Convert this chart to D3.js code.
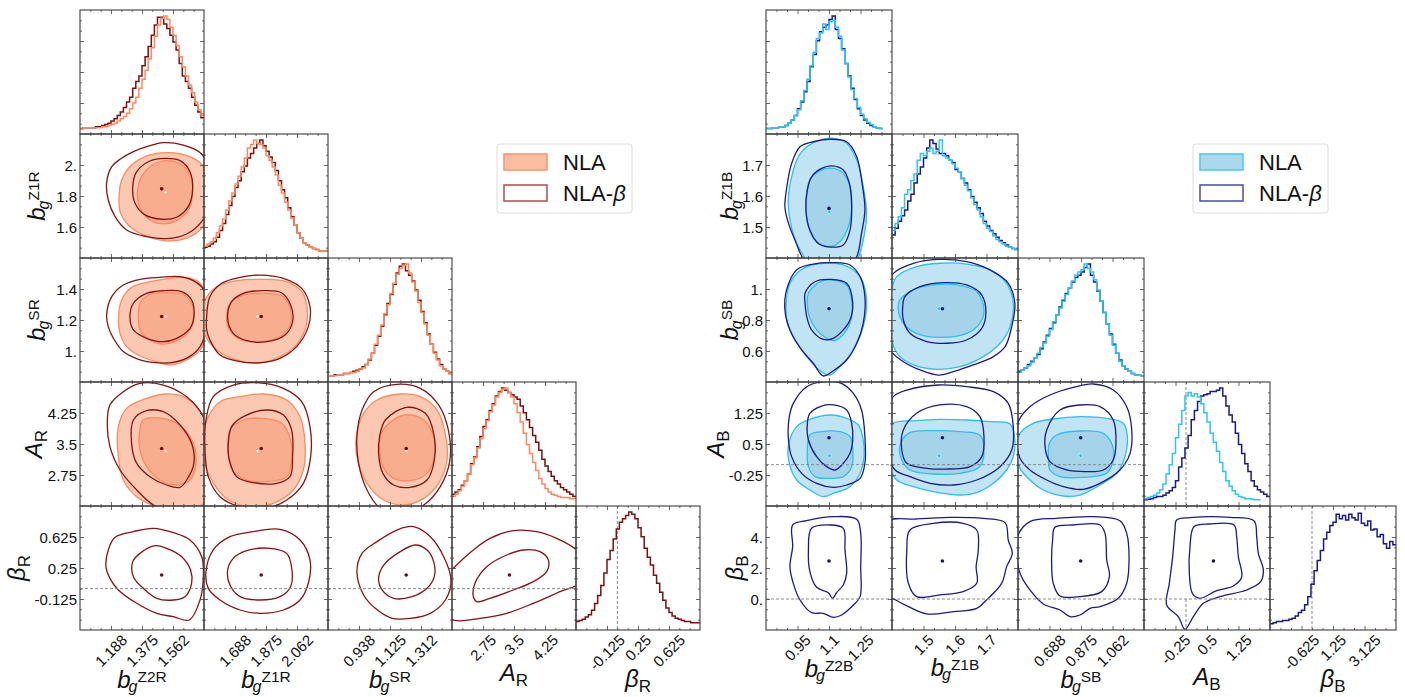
<!DOCTYPE html>
<html><head><meta charset="utf-8">
<script src="https://cdn.jsdelivr.net/npm/d3@7"></script>
<style>body{margin:0;background:#fff}svg{display:block}</style>
</head><body><svg id="c" width="1405" height="697"></svg>
<script>
// ---------------- DATA ----------------
// Left corner plot (R): parameters b_g^Z2R, b_g^Z1R, b_g^SR, A_R, beta_R
const leftParamX = [[1.0,1.75],[1.5,2.25],[0.75,1.5],[2.0,5.0],[-0.5,1.0]];
const leftParamY = [null,[1.4,2.2],[0.8,1.6],[2.0,5.0],[-0.5,1.0]];
const leftXTickVals = [[1.1875,1.375,1.5625],[1.6875,1.875,2.0625],[0.9375,1.125,1.3125],[2.75,3.5,4.25],[-0.125,0.25,0.625]];
const leftXTickText = [["1.188","1.375","1.562"],["1.688","1.875","2.062"],["0.938","1.125","1.312"],["2.75","3.5","4.25"],["-0.125","0.25","0.625"]];
const leftYTickVals = [null,[1.6,1.8,2.0],[1.0,1.2,1.4],[2.75,3.5,4.25],[-0.125,0.25,0.625]];
const leftYTickText = [null,["1.6","1.8","2."],["1.","1.2","1.4"],["2.75","3.5","4.25"],["-0.125","0.25","0.625"]];
const leftRef = [null,null,null,null,0];
const leftLabels = [{m:"b",s:"g",u:"Z2R"},{m:"b",s:"g",u:"Z1R"},{m:"b",s:"g",u:"SR"},{m:"A",s:"R"},{m:"β",s:"R"}];
const leftBestNLA = [1.518,1.824,1.223,3.331,null];
const leftBestBeta = [1.494,1.846,1.223,3.39,0.165];

const leftHistNLA = [
 {p:0,start:1.0,step:0.01875,v:[0,0.01,0.01,0.01,0.01,0.01,0.01,0.02,0.02,0.03,0.04,0.05,0.07,0.09,0.11,0.14,0.18,0.23,0.28,0.36,0.44,0.52,0.62,0.72,0.82,0.92,0.98,1.0,0.97,0.9,0.83,0.74,0.64,0.55,0.47,0.39,0.32,0.24,0.17,0.12]},
 {p:1,start:1.5,step:0.01875,v:[0.06,0.08,0.1,0.13,0.18,0.24,0.3,0.38,0.46,0.53,0.61,0.68,0.76,0.84,0.93,0.96,1.0,0.97,0.96,0.93,0.86,0.82,0.76,0.69,0.6,0.53,0.45,0.38,0.31,0.25,0.18,0.13,0.09,0.07,0.05,0.04,0.03,0.02,0.02,0.015]},
 {p:2,start:0.75,step:0.01875,v:[0.01,0.01,0.01,0.02,0.02,0.03,0.03,0.04,0.04,0.05,0.07,0.08,0.11,0.16,0.21,0.29,0.37,0.46,0.56,0.64,0.74,0.83,0.91,0.96,0.99,1.0,0.92,0.84,0.76,0.66,0.57,0.47,0.37,0.29,0.21,0.15,0.1,0.07,0.05,0.03]},
 {p:3,start:2.0,step:0.075,v:[0.04,0.06,0.09,0.13,0.18,0.24,0.32,0.38,0.47,0.55,0.64,0.71,0.79,0.85,0.92,0.96,0.99,1.0,0.96,0.92,0.86,0.78,0.7,0.6,0.5,0.42,0.34,0.27,0.2,0.15,0.11,0.08,0.06,0.05,0.04,0.03,0.03,0.03,0.02,0.02]}
];
const leftHistBeta = [
 {p:0,start:1.0,step:0.01875,v:[0.005,0.01,0.01,0.01,0.01,0.02,0.02,0.03,0.04,0.05,0.07,0.09,0.12,0.15,0.19,0.24,0.28,0.36,0.42,0.47,0.56,0.64,0.73,0.83,0.92,0.99,0.99,0.93,0.89,0.83,0.77,0.7,0.58,0.47,0.42,0.36,0.28,0.21,0.15,0.1]},
 {p:1,start:1.5,step:0.01875,v:[0.05,0.06,0.08,0.1,0.14,0.2,0.26,0.34,0.42,0.5,0.58,0.64,0.72,0.77,0.84,0.88,0.93,0.97,1.0,0.95,0.9,0.85,0.8,0.73,0.64,0.56,0.49,0.4,0.32,0.25,0.18,0.13,0.09,0.07,0.05,0.04,0.03,0.02,0.02,0.015]},
 {p:2,start:0.75,step:0.01875,v:[0.01,0.01,0.02,0.02,0.02,0.03,0.03,0.04,0.05,0.06,0.07,0.09,0.11,0.15,0.21,0.28,0.36,0.45,0.55,0.65,0.73,0.82,0.92,0.98,1.0,0.94,0.9,0.85,0.77,0.68,0.58,0.48,0.38,0.29,0.22,0.16,0.11,0.07,0.05,0.03]},
 {p:3,start:2.0,step:0.075,v:[0.06,0.08,0.1,0.14,0.18,0.24,0.33,0.39,0.48,0.57,0.66,0.72,0.8,0.86,0.93,0.97,1.0,0.98,0.96,0.94,0.92,0.9,0.84,0.78,0.72,0.65,0.58,0.52,0.45,0.37,0.31,0.26,0.22,0.18,0.15,0.12,0.1,0.08,0.06,0.04]},
 {p:4,start:-0.5,step:0.0375,v:[0.03,0.04,0.05,0.07,0.09,0.13,0.19,0.26,0.35,0.46,0.58,0.66,0.76,0.85,0.91,0.94,0.97,1.0,0.98,0.94,0.86,0.78,0.68,0.6,0.53,0.44,0.37,0.29,0.22,0.15,0.11,0.08,0.06,0.05,0.04,0.03,0.03,0.02,0.02,0.02]}
];

const leftContNLA = [
 {r:1,c:0,outer:[[1.236,1.774],[1.252,1.903],[1.312,2.0],[1.423,2.065],[1.544,2.08],[1.665,2.054],[1.75,1.989],[1.786,1.86],[1.786,1.667],[1.726,1.581],[1.625,1.521],[1.514,1.512],[1.383,1.549],[1.292,1.613],[1.246,1.688]],
  inner:[[1.363,1.903],[1.423,1.989],[1.514,2.028],[1.605,2.007],[1.665,1.936],[1.681,1.817],[1.655,1.71],[1.585,1.641],[1.504,1.62],[1.423,1.645],[1.363,1.721],[1.347,1.817]]},
 {r:2,c:0,outer:[[1.232,1.2],[1.252,1.329],[1.312,1.411],[1.423,1.447],[1.544,1.469],[1.645,1.475],[1.726,1.437],[1.766,1.329],[1.766,1.114],[1.726,1.007],[1.645,0.942],[1.554,0.91],[1.464,0.931],[1.363,0.968],[1.282,1.028],[1.242,1.114]],
  inner:[[1.353,1.2],[1.363,1.308],[1.423,1.366],[1.524,1.376],[1.625,1.366],[1.675,1.308],[1.689,1.222],[1.665,1.136],[1.585,1.067],[1.494,1.045],[1.403,1.082],[1.363,1.136]]},
 {r:2,c:1,outer:[[1.486,1.211],[1.506,1.329],[1.577,1.415],[1.698,1.454],[1.859,1.462],[2.0,1.447],[2.091,1.383],[2.125,1.265],[2.111,1.136],[2.04,1.018],[1.94,0.953],[1.819,0.921],[1.698,0.942],[1.577,1.007],[1.506,1.104]],
  inner:[[1.637,1.2],[1.657,1.308],[1.738,1.361],[1.859,1.372],[1.98,1.351],[2.024,1.265],[2.016,1.157],[1.94,1.082],[1.819,1.06],[1.718,1.075],[1.653,1.136]]},
 {r:3,c:0,outer:[[1.524,4.71],[1.403,4.605],[1.282,4.363],[1.232,3.919],[1.232,3.194],[1.262,2.629],[1.343,2.226],[1.464,1.984],[1.625,1.903],[1.746,2.065],[1.786,2.871],[1.776,3.839],[1.706,4.403],[1.625,4.645]],
  inner:[[1.383,4.081],[1.504,4.121],[1.615,3.919],[1.685,3.516],[1.702,3.032],[1.665,2.629],[1.585,2.508],[1.484,2.629],[1.403,2.952],[1.359,3.435],[1.363,3.839]]},
 {r:3,c:1,outer:[[1.526,4.161],[1.597,4.524],[1.718,4.645],[1.859,4.71],[2.0,4.565],[2.081,4.161],[2.111,3.516],[2.101,2.871],[2.04,2.387],[1.919,2.065],[1.778,1.984],[1.649,2.145],[1.558,2.548],[1.495,3.194],[1.495,3.758]],
  inner:[[1.657,3.839],[1.738,4.081],[1.859,4.121],[1.97,4.0],[2.024,3.597],[2.03,3.113],[2.0,2.71],[1.879,2.589],[1.758,2.629],[1.677,2.831],[1.645,3.274],[1.645,3.597]]},
 {r:3,c:2,outer:[[1.046,4.565],[1.187,4.71],[1.308,4.645],[1.409,4.323],[1.459,3.758],[1.47,3.113],[1.419,2.548],[1.329,2.185],[1.208,2.024],[1.087,2.145],[0.986,2.548],[0.929,3.113],[0.921,3.677],[0.966,4.242]],
  inner:[[1.107,3.96],[1.218,4.202],[1.329,4.081],[1.389,3.677],[1.393,3.194],[1.349,2.79],[1.248,2.613],[1.147,2.669],[1.082,2.952],[1.062,3.355],[1.07,3.718]]}
];
const leftContBeta = [
 {r:1,c:0,outer:[[1.161,1.886],[1.192,1.989],[1.242,2.037],[1.323,2.086],[1.403,2.118],[1.504,2.144],[1.625,2.129],[1.726,2.08],[1.776,1.989],[1.776,1.731],[1.736,1.635],[1.645,1.555],[1.524,1.525],[1.403,1.538],[1.282,1.581],[1.212,1.667],[1.171,1.774]],
  inner:[[1.319,1.86],[1.343,1.957],[1.423,2.026],[1.514,2.043],[1.605,2.028],[1.665,1.957],[1.681,1.839],[1.655,1.731],[1.585,1.663],[1.494,1.65],[1.393,1.678],[1.333,1.753]]},
 {r:2,c:0,outer:[[1.161,1.232],[1.192,1.351],[1.262,1.426],[1.363,1.462],[1.484,1.475],[1.605,1.48],[1.706,1.441],[1.762,1.372],[1.77,1.179],[1.726,1.028],[1.655,0.959],[1.554,0.925],[1.454,0.925],[1.353,0.946],[1.262,0.996],[1.202,1.082],[1.171,1.157]],
  inner:[[1.302,1.222],[1.323,1.308],[1.403,1.372],[1.504,1.389],[1.615,1.383],[1.675,1.329],[1.689,1.222],[1.665,1.146],[1.585,1.082],[1.504,1.06],[1.403,1.082],[1.323,1.136]]},
 {r:2,c:1,outer:[[1.516,1.222],[1.536,1.351],[1.607,1.437],[1.718,1.475],[1.839,1.49],[1.98,1.469],[2.091,1.404],[2.141,1.286],[2.131,1.157],[2.06,1.028],[1.96,0.953],[1.839,0.925],[1.718,0.931],[1.597,0.974],[1.536,1.071],[1.516,1.136]],
  inner:[[1.643,1.211],[1.667,1.318],[1.738,1.372],[1.859,1.389],[1.968,1.376],[2.024,1.297],[2.036,1.19],[1.99,1.104],[1.879,1.06],[1.758,1.067],[1.677,1.114]]},
 {r:3,c:0,outer:[[1.363,4.968],[1.262,4.766],[1.181,4.444],[1.165,4.0],[1.181,3.435],[1.242,2.871],[1.343,2.387],[1.444,2.024],[1.585,1.823],[1.726,1.903],[1.786,2.548],[1.786,3.516],[1.746,4.161],[1.645,4.645],[1.504,4.927]],
  inner:[[1.323,4.081],[1.403,4.306],[1.504,4.282],[1.605,3.96],[1.675,3.516],[1.689,3.032],[1.645,2.629],[1.605,2.452],[1.524,2.508],[1.423,2.71],[1.343,3.032],[1.312,3.516]]},
 {r:3,c:1,outer:[[1.556,4.645],[1.677,4.927],[1.819,4.984],[1.98,4.847],[2.091,4.524],[2.141,3.919],[2.145,3.194],[2.101,2.548],[2.0,2.145],[1.879,1.944],[1.718,1.984],[1.597,2.226],[1.526,2.71],[1.506,3.355],[1.512,4.081]],
  inner:[[1.738,4.161],[1.879,4.323],[1.98,4.202],[2.03,3.839],[2.036,3.194],[2.02,2.71],[1.94,2.548],[1.798,2.565],[1.698,2.71],[1.653,3.113],[1.647,3.516],[1.667,3.919]]},
 {r:3,c:2,outer:[[1.026,4.766],[1.167,4.944],[1.308,4.847],[1.419,4.444],[1.48,3.798],[1.486,3.073],[1.429,2.468],[1.329,2.024],[1.188,1.823],[1.067,1.944],[0.986,2.387],[0.935,3.032],[0.925,3.677],[0.956,4.323]],
  inner:[[1.097,4.081],[1.228,4.387],[1.339,4.242],[1.389,3.758],[1.393,3.113],[1.349,2.629],[1.248,2.452],[1.147,2.508],[1.082,2.79],[1.056,3.274],[1.062,3.677]]},
 {r:4,c:0,outer:[[1.171,0.468],[1.212,0.621],[1.323,0.69],[1.444,0.73],[1.565,0.677],[1.665,0.589],[1.736,0.387],[1.746,0.145],[1.726,-0.137],[1.661,-0.379],[1.565,-0.339],[1.464,-0.298],[1.343,-0.177],[1.232,-0.016],[1.181,0.125],[1.157,0.266]],
  inner:[[1.319,0.327],[1.363,0.427],[1.454,0.52],[1.524,0.488],[1.615,0.387],[1.669,0.226],[1.675,0.065],[1.635,-0.097],[1.565,-0.137],[1.464,-0.117],[1.383,0.004],[1.323,0.145]]},
 {r:4,c:1,outer:[[1.512,0.206],[1.556,0.468],[1.657,0.629],[1.798,0.69],[1.96,0.718],[2.081,0.589],[2.141,0.347],[2.131,0.065],[2.081,-0.137],[1.98,-0.258],[1.839,-0.298],[1.718,-0.258],[1.597,-0.137],[1.526,0.004]],
  inner:[[1.643,0.226],[1.677,0.367],[1.758,0.46],[1.899,0.488],[2.0,0.427],[2.032,0.226],[2.024,0.024],[1.96,-0.097],[1.839,-0.137],[1.718,-0.097],[1.657,0.044]]},
 {r:4,c:2,outer:[[0.925,0.206],[0.956,0.427],[1.046,0.569],[1.177,0.718],[1.268,0.75],[1.369,0.629],[1.45,0.387],[1.494,0.105],[1.46,-0.137],[1.369,-0.298],[1.248,-0.359],[1.137,-0.359],[1.036,-0.238],[0.966,-0.077]],
  inner:[[1.056,0.125],[1.087,0.286],[1.187,0.448],[1.278,0.528],[1.349,0.468],[1.389,0.327],[1.393,0.145],[1.349,0.004],[1.258,-0.097],[1.147,-0.117],[1.077,-0.016]]},
 {r:4,c:3,outer:[[2.032,0.246],[2.516,0.468],[2.919,0.609],[3.484,0.702],[4.048,0.69],[4.532,0.609],[5.016,0.468],[5.339,0.266],[5.097,0.065],[4.613,-0.036],[3.968,-0.177],[3.323,-0.298],[2.677,-0.359],[2.032,-0.379],[1.548,-0.177],[1.71,0.065]],
  inner:[[2.516,-0.097],[2.556,0.065],[2.839,0.266],[3.323,0.407],[3.726,0.468],[4.129,0.448],[4.331,0.347],[4.29,0.206],[3.968,0.085],[3.484,-0.016],[2.919,-0.117],[2.597,-0.157]]}
];

// Right corner plot (B): b_g^Z2B, b_g^Z1B, b_g^SB, A_B, beta_B
const rightParamX = [[0.8,1.4],[1.4,1.8],[0.5,1.25],[-1,2],[-2.5,5]];
const rightParamY = [null,[1.4,1.8],[0.4,1.2],[-1,2],[-2,6]];
const rightXTickVals = [[0.95,1.1,1.25],[1.5,1.6,1.7],[0.6875,0.875,1.0625],[-0.25,0.5,1.25],[-0.625,1.25,3.125]];
const rightXTickText = [["0.95","1.1","1.25"],["1.5","1.6","1.7"],["0.688","0.875","1.062"],["-0.25","0.5","1.25"],["-0.625","1.25","3.125"]];
const rightYTickVals = [null,[1.5,1.6,1.7],[0.6,0.8,1.0],[-0.25,0.5,1.25],[0,2,4]];
const rightYTickText = [null,["1.5","1.6","1.7"],["0.6","0.8","1."],["-0.25","0.5","1.25"],["0.","2.","4."]];
const rightRef = [null,null,null,0,0];
const rightLabels = [{m:"b",s:"g",u:"Z2B"},{m:"b",s:"g",u:"Z1B"},{m:"b",s:"g",u:"SB"},{m:"A",s:"B"},{m:"β",s:"B"}];
const rightBestNLA = [1.102,1.549,0.873,0.218,null];
const rightBestBeta = [1.1,1.56,0.873,0.653,2.453];

const rightHistNLA = [
 {p:0,start:0.8,step:0.015,v:[0.005,0.005,0.01,0.01,0.015,0.02,0.03,0.05,0.08,0.12,0.17,0.25,0.34,0.44,0.56,0.68,0.8,0.85,0.93,0.88,0.95,0.96,0.9,0.82,0.7,0.58,0.46,0.35,0.27,0.19,0.13,0.09,0.06,0.04,0.02,0.01,0.005]},
 {p:1,start:1.4,step:0.01,v:[0.2,0.26,0.32,0.4,0.52,0.56,0.64,0.7,0.82,0.88,0.86,0.9,0.93,0.88,0.9,1.0,0.86,0.84,0.82,0.79,0.75,0.72,0.66,0.6,0.55,0.49,0.43,0.38,0.32,0.26,0.22,0.19,0.15,0.12,0.1,0.08,0.06,0.05,0.04,0.03]},
 {p:2,start:0.5,step:0.01875,v:[0.04,0.06,0.08,0.1,0.13,0.17,0.21,0.26,0.3,0.36,0.42,0.49,0.55,0.61,0.67,0.73,0.79,0.85,0.9,0.93,0.95,1.0,0.96,0.93,0.86,0.77,0.67,0.57,0.47,0.37,0.28,0.21,0.14,0.1,0.07,0.05,0.03,0.02,0.015,0.01]},
 {p:3,start:-1,step:0.075,v:[0.02,0.03,0.04,0.05,0.07,0.1,0.15,0.24,0.32,0.42,0.56,0.68,0.8,0.93,0.96,0.93,0.95,0.92,0.86,0.78,0.7,0.6,0.52,0.44,0.34,0.26,0.18,0.13,0.09,0.06,0.04,0.03,0.02,0.02,0.015,0.01,0.01]}
];
const rightHistBeta = [
 {p:0,start:0.8,step:0.015,v:[0.005,0.005,0.01,0.01,0.015,0.02,0.03,0.05,0.08,0.12,0.18,0.24,0.33,0.42,0.55,0.66,0.78,0.86,0.9,0.92,0.97,1.0,0.88,0.8,0.71,0.58,0.47,0.36,0.26,0.18,0.12,0.08,0.05,0.03,0.02,0.01,0.005]},
 {p:1,start:1.4,step:0.01,v:[0.16,0.22,0.28,0.33,0.38,0.46,0.52,0.62,0.7,0.76,0.84,0.93,1.0,0.97,0.92,0.88,0.88,0.86,0.82,0.8,0.74,0.72,0.66,0.62,0.56,0.5,0.45,0.4,0.35,0.28,0.24,0.2,0.17,0.14,0.11,0.09,0.07,0.05,0.04,0.03]},
 {p:2,start:0.5,step:0.01875,v:[0.05,0.06,0.08,0.11,0.14,0.17,0.2,0.25,0.31,0.37,0.43,0.48,0.55,0.62,0.68,0.74,0.79,0.84,0.88,0.9,0.93,0.97,1.0,0.9,0.84,0.76,0.67,0.57,0.47,0.38,0.29,0.21,0.15,0.1,0.07,0.05,0.03,0.02,0.015,0.01]},
 {p:3,start:-1,step:0.075,v:[0.01,0.015,0.02,0.03,0.04,0.04,0.05,0.07,0.09,0.12,0.18,0.3,0.38,0.47,0.58,0.72,0.8,0.88,0.93,0.94,0.95,0.97,0.97,0.98,1.0,0.93,0.84,0.76,0.7,0.6,0.5,0.42,0.33,0.26,0.18,0.13,0.1,0.08,0.06,0.04]},
 {p:4,start:-2.5,step:0.1875,v:[0.01,0.02,0.03,0.03,0.04,0.04,0.05,0.06,0.08,0.11,0.13,0.18,0.25,0.36,0.48,0.57,0.66,0.76,0.82,0.88,0.91,0.98,0.94,0.97,0.93,0.98,0.95,0.93,0.99,0.9,0.88,0.92,0.84,0.85,0.78,0.8,0.72,0.68,0.74,0.71]}
];

const rightContNLA = [
 {r:1,c:0,outer:[[0.994,1.759],[1.057,1.781],[1.121,1.786],[1.184,1.77],[1.232,1.716],[1.263,1.63],[1.279,1.544],[1.263,1.458],[1.232,1.394],[1.121,1.356],[1.009,1.383],[0.946,1.447],[0.914,1.523],[0.906,1.587],[0.922,1.662],[0.954,1.727]],
  inner:[[1.009,1.652],[1.057,1.682],[1.121,1.689],[1.168,1.673],[1.2,1.63],[1.208,1.566],[1.192,1.501],[1.152,1.453],[1.105,1.437],[1.041,1.453],[1.002,1.501],[0.99,1.566],[0.994,1.614]]},
 {r:2,c:0,outer:[[0.895,0.886],[0.914,1.037],[0.978,1.133],[1.073,1.166],[1.168,1.155],[1.248,1.08],[1.279,0.929],[1.263,0.757],[1.216,0.607],[1.152,0.499],[1.105,0.445],[1.057,0.473],[0.994,0.564],[0.938,0.671],[0.902,0.779]],
  inner:[[1.002,0.972],[1.057,1.047],[1.121,1.058],[1.184,1.026],[1.208,0.929],[1.208,0.822],[1.184,0.736],[1.129,0.667],[1.089,0.682],[1.041,0.736],[1.006,0.822],[0.997,0.908]]},
 {r:2,c:1,outer:[[1.415,1.08],[1.478,1.144],[1.552,1.166],[1.637,1.161],[1.711,1.123],[1.764,1.037],[1.785,0.908],[1.775,0.757],[1.743,0.65],[1.69,0.564],[1.616,0.499],[1.542,0.482],[1.468,0.51],[1.42,0.575],[1.396,0.693],[1.394,0.865],[1.399,0.994]],
  inner:[[1.425,0.929],[1.468,0.994],[1.531,1.026],[1.605,1.026],[1.669,0.983],[1.692,0.865],[1.679,0.779],[1.637,0.714],[1.552,0.688],[1.478,0.714],[1.436,0.779],[1.42,0.865]]},
 {r:3,c:0,outer:[[0.946,0.919],[1.009,1.097],[1.105,1.202],[1.184,1.121],[1.24,0.96],[1.263,0.597],[1.267,0.194],[1.248,-0.21],[1.2,-0.532],[1.121,-0.694],[1.073,-0.774],[1.009,-0.613],[0.946,-0.371],[0.911,0.032],[0.906,0.435]],
  inner:[[1.009,0.718],[1.065,0.798],[1.152,0.798],[1.2,0.677],[1.213,0.355],[1.208,-0.048],[1.168,-0.29],[1.113,-0.331],[1.033,-0.29],[1.002,-0.048],[0.997,0.355]]},
 {r:3,c:1,outer:[[1.404,1.0],[1.478,1.064],[1.552,1.097],[1.637,1.081],[1.711,1.04],[1.775,0.984],[1.79,0.597],[1.785,0.194],[1.764,-0.129],[1.722,-0.452],[1.669,-0.677],[1.616,-0.734],[1.531,-0.653],[1.468,-0.532],[1.415,-0.371],[1.388,0.032],[1.388,0.677]],
  inner:[[1.425,0.435],[1.452,0.758],[1.531,0.823],[1.616,0.798],[1.679,0.718],[1.692,0.355],[1.679,-0.048],[1.616,-0.21],[1.531,-0.226],[1.457,-0.129],[1.431,0.113]]},
 {r:3,c:2,outer:[[0.512,0.758],[0.591,1.0],[0.71,1.105],[0.869,1.161],[1.028,1.121],[1.127,1.0],[1.151,0.677],[1.137,0.194],[1.087,-0.21],[0.988,-0.492],[0.869,-0.734],[0.77,-0.758],[0.651,-0.613],[0.571,-0.371],[0.512,-0.089],[0.492,0.274]],
  inner:[[0.687,0.516],[0.73,0.718],[0.869,0.814],[1.008,0.758],[1.061,0.476],[1.067,0.113],[1.028,-0.21],[0.889,-0.306],[0.75,-0.29],[0.69,-0.129],[0.681,0.194]]}
];
const rightContBeta = [
 {r:1,c:0,outer:[[0.962,1.759],[1.025,1.775],[1.105,1.783],[1.184,1.775],[1.232,1.727],[1.26,1.63],[1.271,1.555],[1.255,1.48],[1.224,1.394],[1.121,1.351],[0.994,1.383],[0.938,1.458],[0.902,1.523],[0.89,1.566],[0.902,1.641],[0.922,1.705]],
  inner:[[1.017,1.662],[1.065,1.689],[1.113,1.697],[1.168,1.684],[1.197,1.641],[1.208,1.566],[1.2,1.49],[1.168,1.442],[1.113,1.435],[1.049,1.447],[1.009,1.49],[0.99,1.555],[0.997,1.619]]},
 {r:2,c:0,outer:[[0.898,0.994],[0.946,1.123],[1.025,1.161],[1.121,1.17],[1.2,1.155],[1.248,1.08],[1.271,0.951],[1.263,0.779],[1.232,0.65],[1.184,0.542],[1.121,0.473],[1.073,0.439],[1.025,0.521],[0.97,0.607],[0.914,0.736],[0.89,0.865]],
  inner:[[0.986,0.972],[1.033,1.047],[1.105,1.062],[1.184,1.037],[1.213,0.908],[1.2,0.8],[1.168,0.736],[1.121,0.682],[1.073,0.675],[1.017,0.736],[0.994,0.822],[0.986,0.908]]},
 {r:2,c:1,outer:[[1.404,1.101],[1.468,1.166],[1.547,1.191],[1.637,1.176],[1.711,1.123],[1.769,1.037],[1.79,0.908],[1.78,0.757],[1.759,0.628],[1.722,0.564],[1.658,0.51],[1.595,0.467],[1.547,0.445],[1.489,0.478],[1.436,0.531],[1.394,0.607],[1.378,0.822],[1.383,1.015]],
  inner:[[1.441,0.951],[1.489,1.015],[1.563,1.041],[1.637,1.026],[1.685,0.961],[1.698,0.843],[1.685,0.746],[1.637,0.671],[1.574,0.65],[1.51,0.661],[1.457,0.714],[1.436,0.8],[1.434,0.886]]},
 {r:3,c:0,outer:[[0.93,1.484],[0.994,1.887],[1.073,2.008],[1.152,1.984],[1.216,1.726],[1.255,1.323],[1.271,0.677],[1.271,0.032],[1.248,-0.331],[1.184,-0.492],[1.121,-0.548],[1.041,-0.452],[0.97,-0.21],[0.922,0.194],[0.906,0.677],[0.911,1.161]],
  inner:[[1.009,1.242],[1.065,1.419],[1.121,1.444],[1.184,1.323],[1.208,1.0],[1.213,0.597],[1.2,0.274],[1.168,0.032],[1.129,-0.129],[1.089,-0.048],[1.041,0.194],[1.002,0.597],[0.997,1.0]]},
 {r:3,c:1,outer:[[1.404,1.645],[1.447,1.806],[1.547,1.927],[1.637,1.887],[1.722,1.766],[1.769,1.484],[1.785,0.919],[1.78,0.355],[1.743,-0.048],[1.669,-0.371],[1.595,-0.492],[1.521,-0.452],[1.457,-0.29],[1.41,-0.129],[1.383,0.355],[1.383,1.161]],
  inner:[[1.436,0.839],[1.478,1.242],[1.552,1.444],[1.637,1.403],[1.679,1.161],[1.692,0.677],[1.685,0.194],[1.648,-0.048],[1.584,-0.105],[1.51,-0.089],[1.447,0.032],[1.431,0.355]]},
 {r:3,c:2,outer:[[0.502,1.04],[0.571,1.403],[0.69,1.685],[0.829,1.871],[0.948,1.952],[1.067,1.806],[1.147,1.403],[1.177,0.839],[1.167,0.274],[1.107,-0.129],[1.008,-0.411],[0.889,-0.597],[0.77,-0.532],[0.671,-0.371],[0.571,-0.129],[0.512,0.153],[0.492,0.597]],
  inner:[[0.671,0.839],[0.75,1.323],[0.869,1.444],[0.988,1.403],[1.067,1.081],[1.083,0.516],[1.067,0.113],[1.008,-0.129],[0.909,-0.17],[0.79,-0.129],[0.69,0.073],[0.661,0.435]]},
 {r:4,c:0,outer:[[0.927,4.775],[0.994,5.054],[1.121,5.312],[1.232,5.14],[1.251,4.237],[1.251,2.087],[1.248,0.152],[1.216,-0.386],[1.16,-1.031],[1.121,-1.181],[1.073,-0.923],[1.017,-0.88],[0.962,-0.063],[0.93,1.012],[0.914,2.087],[0.927,3.377]],
  inner:[[1.017,4.56],[1.105,4.775],[1.168,4.56],[1.176,3.162],[1.184,1.657],[1.168,0.905],[1.136,0.41],[1.117,0.045],[1.097,0.41],[1.041,0.754],[1.009,1.765],[1.002,3.162]]},
 {r:4,c:1,outer:[[1.383,4.99],[1.478,5.162],[1.584,5.269],[1.69,5.205],[1.759,4.925],[1.769,3.807],[1.782,2.947],[1.764,2.087],[1.748,1.012],[1.7,-0.063],[1.669,-0.601],[1.595,-0.816],[1.51,-0.966],[1.452,-0.493],[1.402,0.045],[1.378,0.367],[1.378,3.162]],
  inner:[[1.457,4.452],[1.531,4.882],[1.626,4.882],[1.669,4.452],[1.674,3.162],[1.667,2.087],[1.669,1.012],[1.626,0.475],[1.552,0.26],[1.478,0.152],[1.452,1.012],[1.447,3.162]]},
 {r:4,c:2,outer:[[0.496,4.022],[0.571,4.99],[0.73,5.205],[0.948,5.312],[1.107,5.054],[1.147,4.237],[1.161,2.732],[1.147,1.012],[1.097,0.045],[0.988,-0.493],[0.929,-0.601],[0.869,-1.031],[0.81,-1.138],[0.75,-0.708],[0.651,-0.321],[0.571,0.582],[0.512,1.657],[0.492,2.947]],
  inner:[[0.72,4.624],[0.829,4.775],[0.988,4.775],[1.018,4.237],[1.028,2.517],[1.044,1.442],[0.998,0.475],[0.869,0.152],[0.75,0.195],[0.71,1.012],[0.7,2.517],[0.706,3.807]]},
 {r:4,c:3,outer:[[-0.222,5.097],[0.095,5.248],[1.048,5.269],[1.619,5.054],[1.683,4.022],[1.722,2.947],[1.841,1.872],[1.778,1.119],[1.444,0.582],[0.81,0.152],[0.413,-0.278],[0.175,-1.138],[-0.024,-1.955],[-0.183,-1.138],[-0.46,-0.386],[-0.397,1.012],[-0.317,2.732],[-0.262,4.452]],
  inner:[[0.19,4.667],[0.571,4.839],[1.143,4.775],[1.206,4.022],[1.246,2.732],[1.325,1.399],[1.127,0.84],[0.73,0.539],[0.333,0.045],[0.159,0.324],[0.079,1.657],[0.095,3.377]]}
];
const legendNames = ["NLA","NLA-β"];

// ---------------- STYLE / LAYOUT ----------------
const FONT = '"Liberation Sans", Arial, Helvetica, sans-serif';
const svg = d3.select("#c");

const leftGrid = {
  id:"L", x0:80, y0:10, w:124, h:124,
  px:leftParamX, py:leftParamY, xtv:leftXTickVals, xtt:leftXTickText, ytv:leftYTickVals, ytt:leftYTickText,
  ref:leftRef, labels:leftLabels, yLabelX:[0,45,45,42,25], xLabelY:[688,688,688,681,687],
  bestNLA:leftBestNLA, bestBeta:leftBestBeta,
  histNLA:leftHistNLA, histBeta:leftHistBeta, contNLA:leftContNLA, contBeta:leftContBeta,
  col:{outerFill:"#fdc8b1", innerFill:"#f9ad8f", nlaStroke:"#fb8b5f", nlaHist:"#fd8a5c", beta:"#861414", betaHist:"#7a1010",
       nlaDotFill:"#fff2ec", nlaDotStroke:"#f49a7b", betaDot:"#6d0d0d",
       legFill:"#fdbda3", legStroke:"#fb9873", legBeta:"#b35858"},
  legend:{x:497, y:144, w:135, h:69}
};
const rightGrid = {
  id:"R", x0:766, y0:10, w:126, h:124,
  px:rightParamX, py:rightParamY, xtv:rightXTickVals, xtt:rightXTickText, ytv:rightYTickVals, ytt:rightYTickText,
  ref:rightRef, labels:rightLabels, yLabelX:[0,738,738,724,743], xLabelY:[677,676,688,685,687],
  bestNLA:rightBestNLA, bestBeta:rightBestBeta,
  histNLA:rightHistNLA, histBeta:rightHistBeta, contNLA:rightContNLA, contBeta:rightContBeta,
  col:{outerFill:"#c0e4f3", innerFill:"#a5d4ea", nlaStroke:"#2bbff2", nlaHist:"#2ec4f6", beta:"#1b1b87", betaHist:"#1a1a8a",
       nlaDotFill:"#2bbff2", nlaDotStroke:"#e8f8ff", betaDot:"#14146e",
       legFill:"#aad8ec", legStroke:"#4ccdf6", legBeta:"#5555ab"},
  legend:{x:1193, y:144, w:135, h:69}
};

const measurer = svg.append("text").style("font-family",FONT).style("font-size","15px").attr("x",-1000).attr("y",-1000);
function textW(s){ measurer.text(s); return measurer.node().getComputedTextLength(); }

function addLabel(g, x, y, lab, rotate){
  const t = g.append("text").attr("x",x).attr("y",y).attr("text-anchor","middle")
    .style("font-family",FONT).attr("fill","#111");
  if (rotate) t.attr("transform",`rotate(-90,${x},${y})`);
  t.append("tspan").text(lab.m).style("font-style","italic").style("font-size","24px");
  if (lab.u){
    t.append("tspan").text(lab.s).style("font-style","italic").style("font-size","16px").attr("dy",4).attr("dx",-2);
    t.append("tspan").text(lab.u).style("font-size","15.5px").attr("dy",-10.5).attr("dx",0);
  } else {
    t.append("tspan").text(lab.s).style("font-size","17px").attr("dy",5);
  }
}

const contourLine = (x,y)=> d3.line().x(d=>x(d[0])).y(d=>y(d[1])).curve(d3.curveCatmullRomClosed.alpha(0.5));

function histPoints(h){
  const pts = h.v.map((v,i)=>[h.start + i*h.step, v]);
  pts.push([h.start + h.v.length*h.step, h.v[h.v.length-1]]);
  return pts;
}

function drawGrid(G){
  const root = svg.append("g");
  const n = 5;
  for (let r=0;r<n;r++){
    for (let c=0;c<=r;c++){
      const X0 = G.x0 + c*G.w, Y0 = G.y0 + r*G.h;
      const x = d3.scaleLinear().domain(G.px[c]).range([X0, X0+G.w]);
      const diag = (r===c);
      const y = diag ? d3.scaleLinear().domain([0,1]).range([Y0+G.h-5, Y0+6])
                     : d3.scaleLinear().domain(G.py[r]).range([Y0+G.h, Y0]);
      const cid = `clip${G.id}${r}${c}`;
      root.append("clipPath").attr("id",cid).append("rect").attr("x",X0).attr("y",Y0).attr("width",G.w).attr("height",G.h);
      const pg = root.append("g").attr("clip-path",`url(#${cid})`);
      const col = G.col;
      if (diag){
        if (G.ref[c]!==null){
          pg.append("line").attr("x1",x(G.ref[c])).attr("x2",x(G.ref[c])).attr("y1",Y0).attr("y2",Y0+G.h)
            .attr("stroke","#8a8a8a").attr("stroke-width",1).attr("stroke-dasharray","3,2");
        }
        const line = d3.line().x(d=>x(d[0])).y(d=>y(d[1])).curve(d3.curveStepAfter);
        const hn = G.histNLA.find(h=>h.p===c);
        const hb = G.histBeta.find(h=>h.p===c);
        if (hb) pg.append("path").attr("d",line(histPoints(hb))).attr("fill","none").attr("stroke",col.betaHist).attr("stroke-width",1.5);
        if (hn) pg.append("path").attr("d",line(histPoints(hn))).attr("fill","none").attr("stroke",col.nlaHist).attr("stroke-width",1.5);
      } else {
        const cl = contourLine(x,y);
        const cn = G.contNLA.find(d=>d.r===r&&d.c===c);
        const cb = G.contBeta.find(d=>d.r===r&&d.c===c);
        if (cn){
          pg.append("path").attr("d",cl(cn.outer)).attr("fill",col.outerFill).attr("stroke",col.nlaStroke).attr("stroke-width",1.3);
          pg.append("path").attr("d",cl(cn.inner)).attr("fill",col.innerFill).attr("stroke",col.nlaStroke).attr("stroke-width",1.3);
        }
        if (cb){
          pg.append("path").attr("d",cl(cb.outer)).attr("fill","none").attr("stroke",col.beta).attr("stroke-width",1.3);
          pg.append("path").attr("d",cl(cb.inner)).attr("fill","none").attr("stroke",col.beta).attr("stroke-width",1.3);
        }
        const hr = G.ref[r], vr = G.ref[c];
        if (hr!==null){
          pg.append("line").attr("x1",X0).attr("x2",X0+G.w).attr("y1",y(hr)).attr("y2",y(hr))
            .attr("stroke","#8a8a8a").attr("stroke-width",1).attr("stroke-dasharray","3,2");
        }
        if (vr!==null){
          pg.append("line").attr("x1",x(vr)).attr("x2",x(vr)).attr("y1",hr!==null?y(hr):Y0).attr("y2",Y0+G.h)
            .attr("stroke","#8a8a8a").attr("stroke-width",1).attr("stroke-dasharray","3,2");
        }
        if (G.bestNLA[c]!==null && G.bestNLA[r]!==null && cn){
          pg.append("circle").attr("cx",x(G.bestNLA[c])).attr("cy",y(G.bestNLA[r])).attr("r",1.8)
            .attr("fill",col.nlaDotFill).attr("stroke",col.nlaDotStroke).attr("stroke-width",0.6);
        }
        pg.append("circle").attr("cx",x(G.bestBeta[c])).attr("cy",y(G.bestBeta[r])).attr("r",1.8).attr("fill",col.betaDot);
      }
      const fx = d3.scaleLinear().domain([0,12]).range([X0, X0+G.w]);
      const fy = d3.scaleLinear().domain([0,12]).range([Y0+G.h, Y0]);
      const minor = d3.range(1,12).filter(i=>i%3!==0), major=[3,6,9];
      const tk = root.append("g");
      const specs = [
        [d3.axisBottom, fx, `translate(0,${Y0+G.h})`],
        [d3.axisTop, fx, `translate(0,${Y0})`],
        [d3.axisLeft, fy, `translate(${X0},0)`],
        [d3.axisRight, fy, `translate(${X0+G.w},0)`]
      ];
      specs.forEach(([ax, sc, tr])=>{
        tk.append("g").attr("transform",tr).call(ax(sc).tickValues(minor).tickSize(-2).tickFormat(""));
        tk.append("g").attr("transform",tr).call(ax(sc).tickValues(major).tickSize(-4).tickFormat(""));
      });
      tk.selectAll(".domain").remove();
      tk.selectAll("text").remove();
      tk.selectAll("line").attr("stroke","#444").attr("stroke-width",0.8);
      root.append("rect").attr("x",X0).attr("y",Y0).attr("width",G.w).attr("height",G.h)
        .attr("fill","none").attr("stroke","#3d3d3d").attr("stroke-width",1.1);

      if (r===n-1){
        G.xtv[c].forEach((t,i)=>{
          const s = G.xtt[c][i];
          const w = textW(s);
          const hb = (w+15)/Math.SQRT2;
          const cx = x(t), cy = Y0+G.h+2+hb/2;
          root.append("text").attr("x",cx).attr("y",cy).attr("text-anchor","middle").attr("dominant-baseline","central")
            .attr("transform",`rotate(-45,${cx},${cy})`).style("font-family",FONT).style("font-size","15px").attr("fill","#111").text(s);
        });
        addLabel(root, X0+G.w/2, G.xLabelY[c], G.labels[c], false);
      }
      if (c===0 && r>0){
        G.ytv[r].forEach((t,i)=>{
          root.append("text").attr("x",X0-3).attr("y",y(t)).attr("text-anchor","end").attr("dominant-baseline","central")
            .style("font-family",FONT).style("font-size","15px").attr("fill","#111").text(G.ytt[r][i]);
        });
        addLabel(root, G.yLabelX[r], Y0+G.h/2, G.labels[r], true);
      }
    }
  }
  const L = G.legend, col = G.col;
  const lg = root.append("g");
  lg.append("rect").attr("x",L.x).attr("y",L.y).attr("width",L.w).attr("height",L.h).attr("rx",3)
    .attr("fill","#fff").attr("stroke","#dcdcdc").attr("stroke-width",1);
  const items = [{fill:col.legFill, stroke:col.legStroke},{fill:"#fff", stroke:col.legBeta}];
  items.forEach((it,i)=>{
    const yy = L.y + 10 + i*31;
    lg.append("rect").attr("x",L.x+7).attr("y",yy).attr("width",43).attr("height",16)
      .attr("fill",it.fill).attr("stroke",it.stroke).attr("stroke-width",1.6);
    const t = lg.append("text").attr("x",L.x+66).attr("y",yy+15.5).style("font-family",FONT).style("font-size","22px").attr("fill","#111");
    const nm = legendNames[i];
    if (nm.endsWith("β")){
      t.append("tspan").text(nm.slice(0,-1));
      t.append("tspan").text("β").style("font-style","italic");
    } else t.text(nm);
  });
}

drawGrid(leftGrid);
drawGrid(rightGrid);
measurer.remove();
</script></body></html>
